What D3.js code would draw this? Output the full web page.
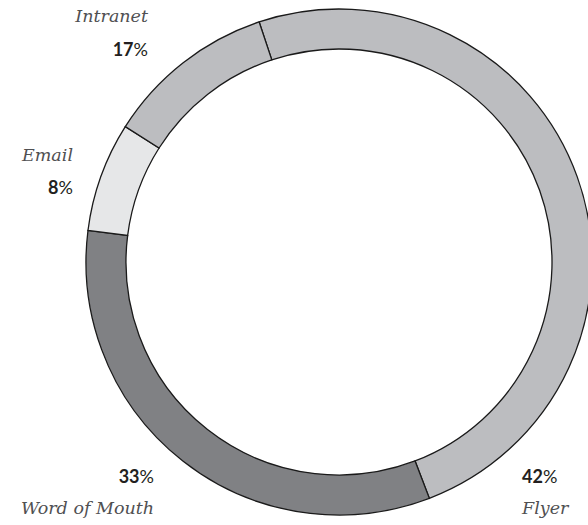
<!DOCTYPE html>
<html>
<head>
<meta charset="utf-8">
<script src="https://cdn.jsdelivr.net/npm/d3@7/dist/d3.min.js"></script>
<style>
  html, body { margin: 0; padding: 0; background: #fff; }
  svg { display: block; }
  .name { font-family: "DejaVu Serif", serif; font-style: italic; font-size: 17.5px; fill: #505052; }
  .pct { font-family: Lato, "Open Sans", sans-serif; font-size: 18px; fill: #231f20; }
</style>
</head>
<body>
<script>
// Data
const categories = ["Flyer", "Word of Mouth", "Email", "Intranet"];
const percentLabels = [42, 33, 8, 17];
// Arc lengths as actually drawn in the picture (share of the ring)
const arcShares = [49.3, 32.8, 7.0, 10.9];
const colors = ["#bcbdc0", "#808184", "#e6e7e8", "#bcbdc0"];

const W = 588, H = 525;
const cx = 339, cy = 262, rOuter = 253, rInner = 213;
const startDeg = -18.4;

const svg = d3.select("body").append("svg").attr("width", W).attr("height", H);

const data = categories.map((c, i) => ({ name: c, share: arcShares[i], pct: percentLabels[i], color: colors[i] }));

const pie = d3.pie().sort(null).value(d => d.share)
  .startAngle(startDeg * Math.PI / 180)
  .endAngle((startDeg + 360) * Math.PI / 180);
const arc = d3.arc().innerRadius(rInner).outerRadius(rOuter);

svg.append("g").attr("transform", `translate(${cx},${cy})`)
  .selectAll("path").data(pie(data)).join("path")
  .attr("d", arc)
  .attr("fill", d => d.data.color)
  .attr("stroke", "#1a1a1a")
  .attr("stroke-width", 1.3)
  .attr("stroke-linejoin", "miter");

const labelLayout = {
  "Intranet": { x: 148, anchor: "end", nameY: 22, pctY: 56 },
  "Email": { x: 73, anchor: "end", nameY: 161, pctY: 194 },
  "Word of Mouth": { x: 154, anchor: "end", nameY: 514, pctY: 483 },
  "Flyer": { x: 522, anchor: "start", nameY: 514, pctY: 483 }
};

data.forEach(d => {
  const L = labelLayout[d.name];
  svg.append("text").attr("class", "name")
    .attr("x", L.x).attr("y", L.nameY).attr("text-anchor", L.anchor)
    .text(d.name);
  const t = svg.append("text").attr("class", "pct")
    .attr("x", L.x).attr("y", L.pctY).attr("text-anchor", L.anchor);
  t.append("tspan").attr("font-weight", 700).text(d.pct);
  t.append("tspan").attr("font-weight", 400).text("%");
});
</script>
</body>
</html>
